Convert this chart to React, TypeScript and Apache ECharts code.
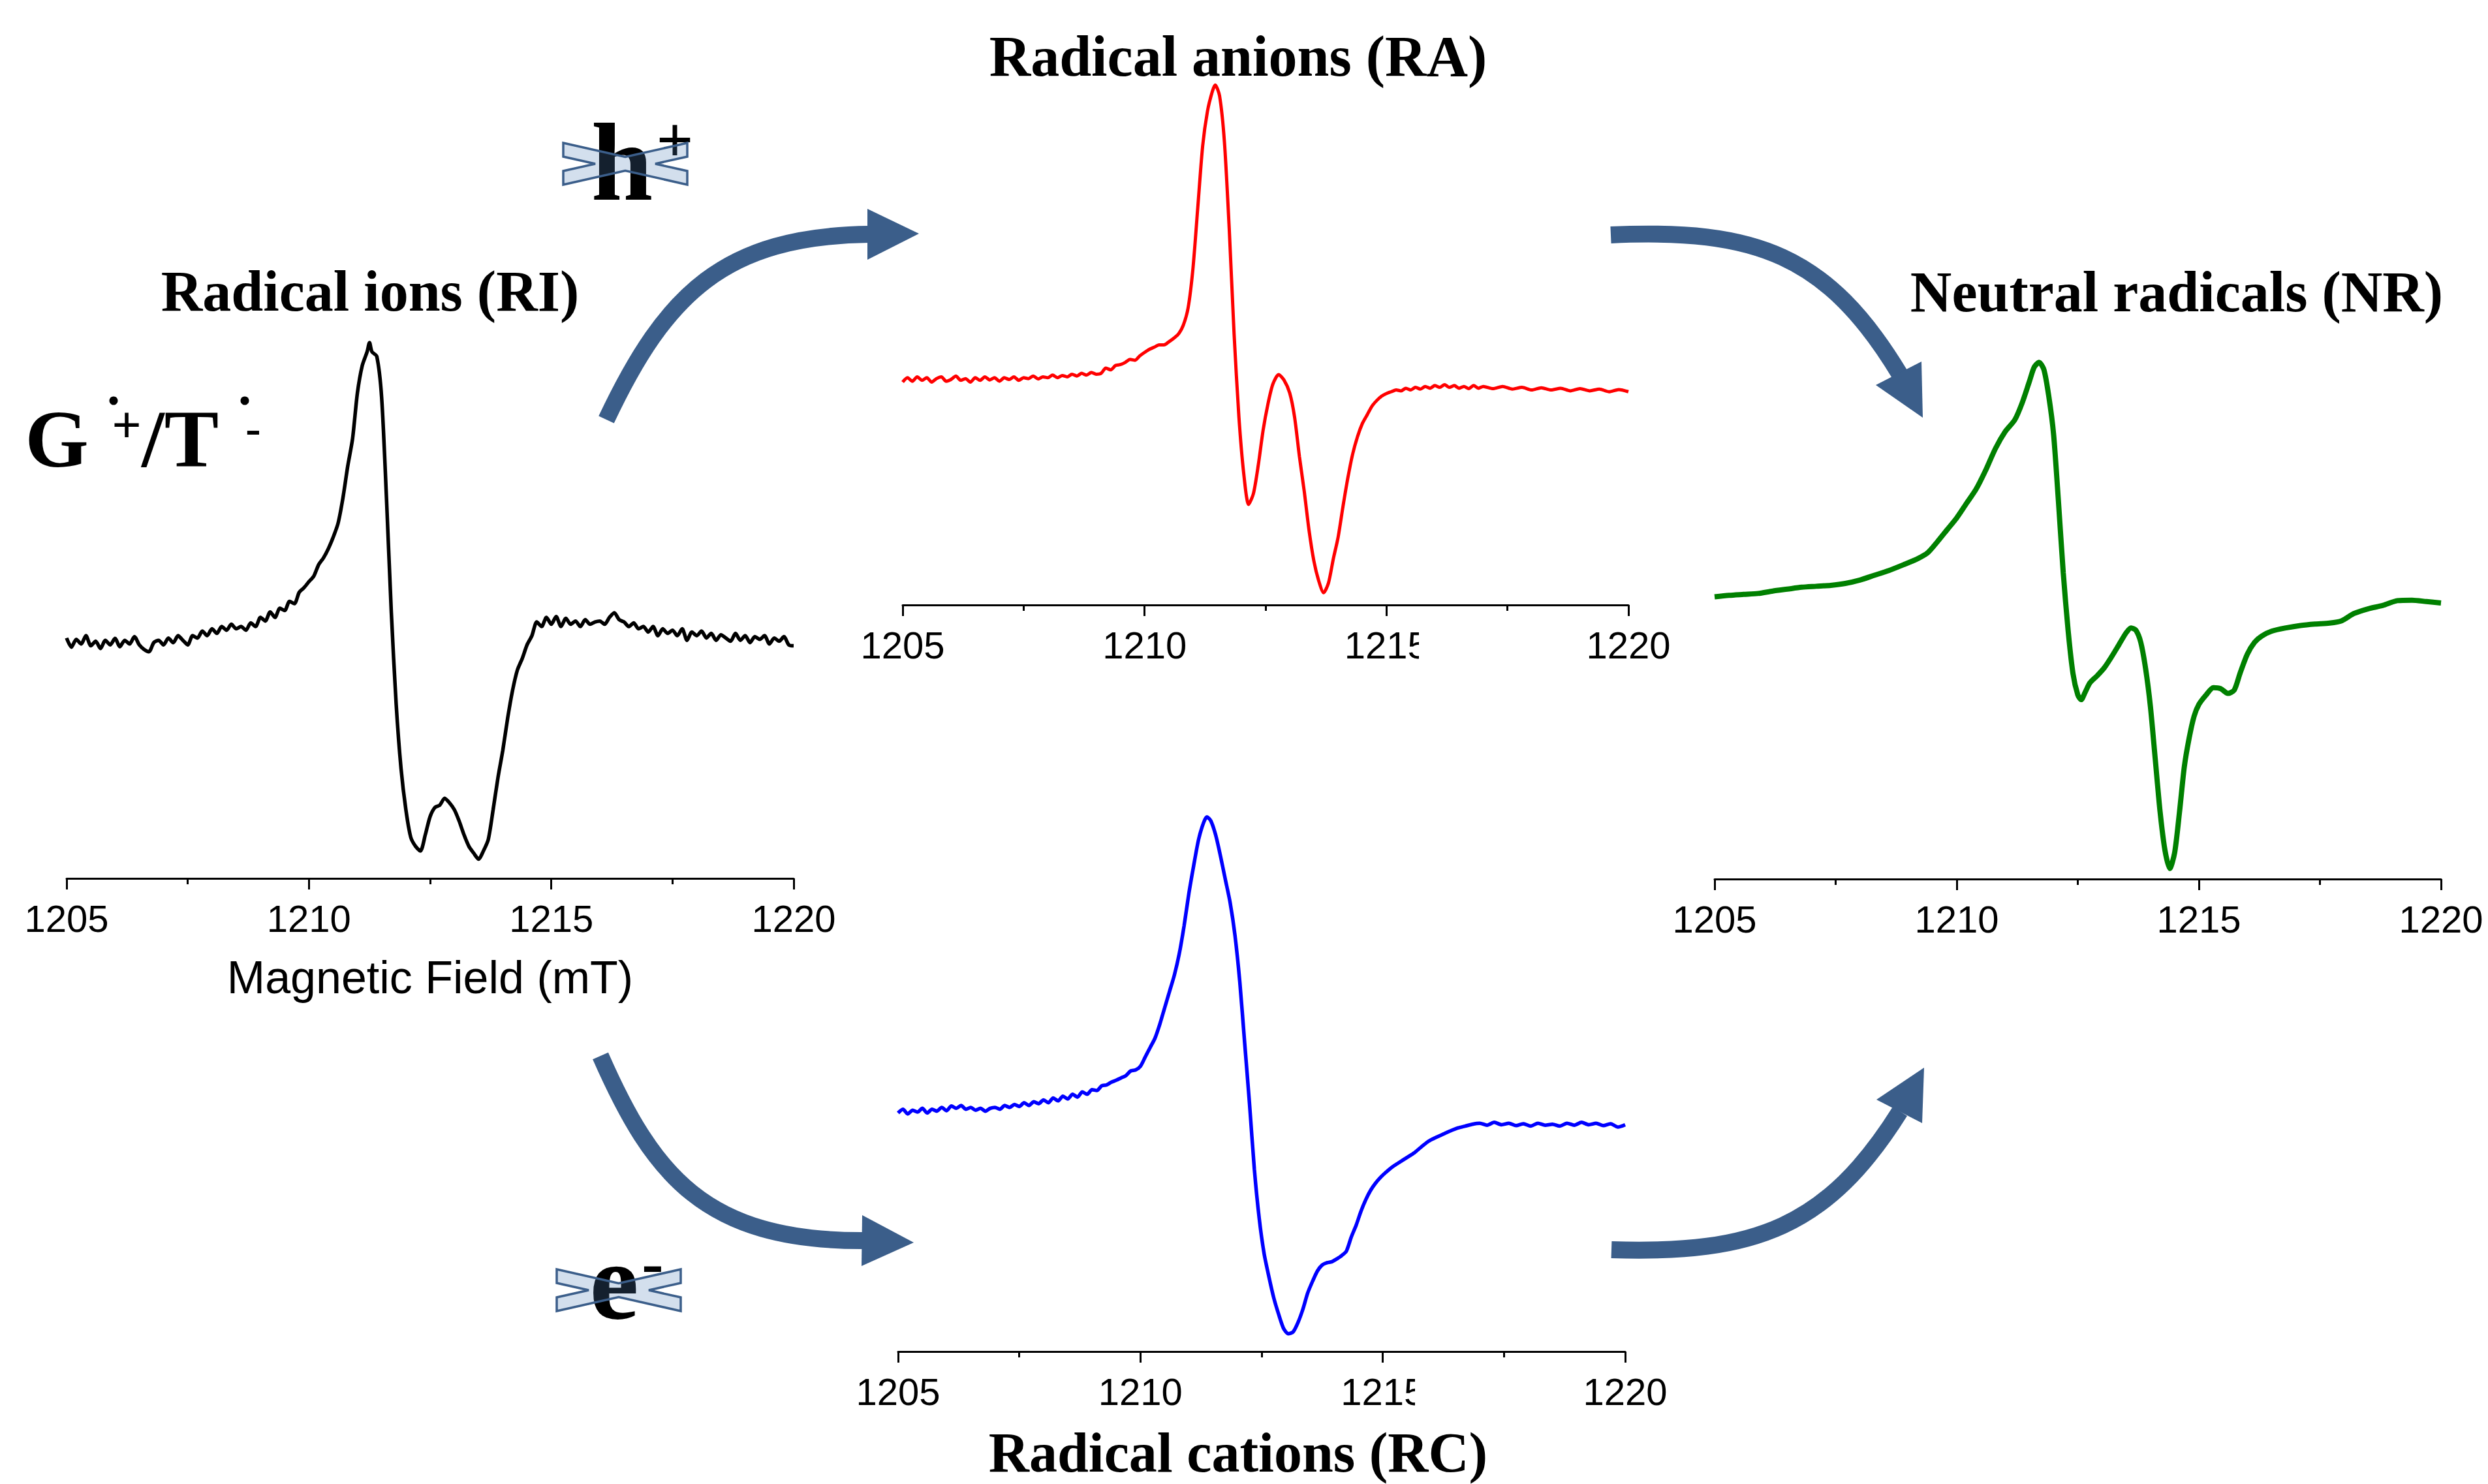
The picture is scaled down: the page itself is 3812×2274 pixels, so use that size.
import React, { useEffect, useRef } from "react";
import * as echarts from "echarts";

// Field axis (mT)
const FIELD_MIN = 1205;
const FIELD_MAX = 1220;
const FIELD_STEP = 5;

// Panel titles
const TITLE_RI = "Radical ions (RI)";
const TITLE_RA = "Radical anions (RA)";
const TITLE_NR = "Neutral radicals (NR)";
const TITLE_RC = "Radical cations (RC)";
const AXIS_NAME = "Magnetic Field (mT)";

// Radical ions (black) [field mT, signal a.u.]
const riSpectrum = [
  [1205.0,5.25],[1205.1,5.05],[1205.2,5.22],[1205.3,5.12],[1205.4,5.3],[1205.5,5.08],[1205.6,5.18],[1205.7,5.02],[1205.8,5.2],[1205.9,5.1],
  [1206.0,5.24],[1206.1,5.06],[1206.2,5.2],[1206.3,5.12],[1206.4,5.28],[1206.5,5.1],[1206.6,5.0],[1206.7,4.95],[1206.8,5.15],[1206.9,5.2],
  [1207.0,5.1],[1207.1,5.25],[1207.2,5.15],[1207.3,5.3],[1207.4,5.2],[1207.5,5.1],[1207.6,5.3],[1207.7,5.25],[1207.8,5.4],[1207.9,5.3],
  [1208.0,5.45],[1208.1,5.35],[1208.2,5.5],[1208.3,5.42],[1208.4,5.55],[1208.5,5.45],[1208.6,5.5],[1208.7,5.42],[1208.8,5.58],[1208.9,5.5],
  [1209.0,5.7],[1209.1,5.62],[1209.2,5.82],[1209.3,5.7],[1209.4,5.9],[1209.5,5.85],[1209.6,6.05],[1209.7,6.0],[1209.8,6.25],[1209.9,6.35],
  [1210.0,6.48],[1210.1,6.6],[1210.2,6.85],[1210.3,7.0],[1210.4,7.2],[1210.5,7.45],[1210.6,7.75],[1210.7,8.3],[1210.8,9.0],[1210.9,9.6],
  [1211.0,10.6],[1211.1,11.2],[1211.2,11.5],[1211.25,11.7],[1211.3,11.5],[1211.4,11.4],[1211.5,10.5],[1211.6,8.3],[1211.7,5.8],[1211.8,3.8],
  [1211.9,2.4],[1212.0,1.5],[1212.1,0.9],[1212.2,0.7],[1212.3,0.6],[1212.4,0.95],[1212.5,1.35],[1212.6,1.55],[1212.7,1.6],[1212.8,1.75],
  [1212.9,1.65],[1213.0,1.5],[1213.1,1.25],[1213.2,0.95],[1213.3,0.7],[1213.4,0.55],[1213.5,0.42],[1213.6,0.6],[1213.7,0.85],[1213.8,1.5],
  [1213.9,2.2],[1214.0,2.8],[1214.1,3.5],[1214.2,4.1],[1214.3,4.55],[1214.4,4.8],[1214.5,5.1],[1214.6,5.3],[1214.7,5.6],[1214.8,5.5],
  [1214.9,5.7],[1215.0,5.55],[1215.1,5.72],[1215.2,5.5],[1215.3,5.68],[1215.4,5.55],[1215.5,5.62],[1215.6,5.5],[1215.7,5.65],[1215.8,5.55],
  [1215.9,5.6],[1216.0,5.62],[1216.1,5.55],[1216.2,5.7],[1216.3,5.8],[1216.4,5.65],[1216.5,5.6],[1216.6,5.5],[1216.7,5.58],[1216.8,5.45],
  [1216.9,5.5],[1217.0,5.38],[1217.1,5.5],[1217.2,5.3],[1217.3,5.45],[1217.4,5.35],[1217.5,5.42],[1217.6,5.3],[1217.7,5.45],[1217.8,5.2],
  [1217.9,5.38],[1218.0,5.3],[1218.1,5.4],[1218.2,5.25],[1218.3,5.35],[1218.4,5.2],[1218.5,5.32],[1218.6,5.25],[1218.7,5.18],[1218.8,5.35],
  [1218.9,5.2],[1219.0,5.3],[1219.1,5.15],[1219.2,5.28],[1219.3,5.22],[1219.4,5.3],[1219.5,5.12],[1219.6,5.25],[1219.7,5.18],[1219.8,5.28],
  [1219.9,5.1],[1220.0,5.08],
];

// Radical anions (red)
const raSpectrum = [
  [1205.0,5.1],[1205.1,5.2],[1205.2,5.12],[1205.3,5.22],[1205.4,5.14],[1205.5,5.2],[1205.6,5.1],[1205.7,5.18],[1205.8,5.22],[1205.9,5.12],
  [1206.0,5.16],[1206.1,5.24],[1206.2,5.14],[1206.3,5.18],[1206.4,5.1],[1206.5,5.2],[1206.6,5.14],[1206.7,5.22],[1206.8,5.15],[1206.9,5.2],
  [1207.0,5.12],[1207.1,5.2],[1207.2,5.16],[1207.3,5.22],[1207.4,5.14],[1207.5,5.2],[1207.6,5.18],[1207.7,5.24],[1207.8,5.17],[1207.9,5.22],
  [1208.0,5.2],[1208.1,5.26],[1208.2,5.2],[1208.3,5.25],[1208.4,5.22],[1208.5,5.28],[1208.6,5.24],[1208.7,5.3],[1208.8,5.26],[1208.9,5.32],
  [1209.0,5.28],[1209.1,5.3],[1209.2,5.42],[1209.3,5.38],[1209.4,5.48],[1209.5,5.5],[1209.6,5.55],[1209.7,5.62],[1209.8,5.6],[1209.9,5.7],
  [1210.0,5.78],[1210.1,5.85],[1210.2,5.9],[1210.3,5.95],[1210.4,5.95],[1210.5,6.02],[1210.6,6.1],[1210.7,6.2],[1210.8,6.4],[1210.9,6.8],
  [1211.0,7.7],[1211.1,9.1],[1211.2,10.5],[1211.3,11.3],[1211.4,11.75],[1211.46,11.9],[1211.55,11.65],[1211.65,10.6],[1211.75,8.6],[1211.85,6.2],
  [1211.95,4.3],[1212.05,3.0],[1212.15,2.3],[1212.25,2.55],[1212.35,3.2],[1212.45,4.0],[1212.55,4.6],[1212.65,5.05],[1212.77,5.27],[1212.88,5.15],
  [1213.0,4.85],[1213.1,4.3],[1213.2,3.4],[1213.3,2.6],[1213.4,1.7],[1213.5,1.0],[1213.6,0.55],[1213.7,0.28],[1213.8,0.5],[1213.9,1.05],
  [1214.0,1.55],[1214.1,2.25],[1214.2,2.9],[1214.3,3.45],[1214.4,3.85],[1214.5,4.15],[1214.6,4.35],[1214.7,4.55],[1214.8,4.68],[1214.9,4.78],
  [1215.0,4.84],[1215.1,4.88],[1215.2,4.92],[1215.3,4.9],[1215.4,4.96],[1215.5,4.92],[1215.6,4.98],[1215.7,4.94],[1215.8,5.0],[1215.9,4.96],
  [1216.0,5.02],[1216.1,4.98],[1216.2,5.04],[1216.3,4.98],[1216.4,5.02],[1216.5,4.96],[1216.6,5.0],[1216.7,4.95],[1216.8,5.02],[1216.9,4.96],
  [1217.0,5.0],[1217.2,4.95],[1217.4,5.0],[1217.6,4.94],[1217.8,4.98],[1218.0,4.92],[1218.2,4.97],[1218.4,4.92],[1218.6,4.96],[1218.8,4.9],
  [1219.0,4.95],[1219.2,4.9],[1219.4,4.94],[1219.6,4.88],[1219.8,4.93],[1220.0,4.88],
];

// Neutral radicals (green)
const nrSpectrum = [
  [1205.0,5.9],[1205.3,5.93],[1205.6,5.95],[1205.9,5.97],[1206.2,6.02],[1206.5,6.06],[1206.8,6.1],[1207.1,6.12],[1207.4,6.14],[1207.7,6.18],
  [1208.0,6.25],[1208.3,6.35],[1208.6,6.45],[1208.9,6.57],[1209.2,6.7],[1209.4,6.82],[1209.6,7.05],[1209.8,7.3],[1210.0,7.55],[1210.2,7.85],
  [1210.4,8.15],[1210.6,8.55],[1210.8,9.0],[1211.0,9.35],[1211.2,9.6],[1211.35,9.95],[1211.5,10.4],[1211.6,10.7],[1211.7,10.8],[1211.8,10.65],
  [1211.9,10.1],[1212.0,9.3],[1212.1,7.9],[1212.2,6.4],[1212.3,5.2],[1212.4,4.3],[1212.5,3.85],[1212.57,3.75],[1212.65,3.9],[1212.75,4.1],
  [1212.9,4.25],[1213.05,4.42],[1213.2,4.65],[1213.35,4.9],[1213.5,5.15],[1213.6,5.25],[1213.7,5.2],[1213.8,4.95],[1213.9,4.4],[1214.0,3.6],
  [1214.1,2.5],[1214.2,1.4],[1214.3,0.6],[1214.4,0.22],[1214.5,0.55],[1214.6,1.4],[1214.7,2.35],[1214.8,2.95],[1214.9,3.4],[1215.0,3.65],
  [1215.15,3.85],[1215.3,4.0],[1215.45,3.98],[1215.6,3.88],[1215.73,3.95],[1215.85,4.3],[1216.0,4.7],[1216.15,4.95],[1216.3,5.08],[1216.5,5.18],
  [1216.8,5.25],[1217.1,5.3],[1217.4,5.33],[1217.7,5.35],[1217.95,5.4],[1218.2,5.55],[1218.5,5.65],[1218.8,5.72],[1219.1,5.82],[1219.4,5.83],
  [1219.7,5.8],[1220.0,5.77],
];

// Radical cations (blue)
const rcSpectrum = [
  [1205.0,5.1],[1205.1,5.18],[1205.2,5.08],[1205.3,5.16],[1205.4,5.12],[1205.5,5.2],[1205.6,5.1],[1205.7,5.18],[1205.8,5.14],[1205.9,5.22],
  [1206.0,5.15],[1206.1,5.25],[1206.2,5.2],[1206.3,5.26],[1206.4,5.18],[1206.5,5.22],[1206.6,5.16],[1206.7,5.2],[1206.8,5.14],[1206.9,5.2],
  [1207.0,5.22],[1207.1,5.18],[1207.2,5.26],[1207.3,5.22],[1207.4,5.28],[1207.5,5.24],[1207.6,5.32],[1207.7,5.26],[1207.8,5.34],[1207.9,5.3],
  [1208.0,5.38],[1208.1,5.32],[1208.2,5.42],[1208.3,5.36],[1208.4,5.46],[1208.5,5.4],[1208.6,5.5],[1208.7,5.44],[1208.8,5.55],[1208.9,5.5],
  [1209.0,5.6],[1209.1,5.58],[1209.2,5.68],[1209.3,5.7],[1209.4,5.76],[1209.5,5.8],[1209.6,5.85],[1209.7,5.9],[1209.8,6.0],[1209.9,6.02],
  [1210.0,6.1],[1210.1,6.3],[1210.2,6.5],[1210.3,6.7],[1210.4,7.0],[1210.5,7.35],[1210.6,7.7],[1210.7,8.05],[1210.8,8.5],[1210.9,9.1],
  [1211.0,9.8],[1211.1,10.4],[1211.2,10.95],[1211.3,11.3],[1211.37,11.43],[1211.45,11.35],[1211.55,11.05],[1211.65,10.6],[1211.75,10.1],[1211.85,9.6],
  [1211.95,8.9],[1212.05,7.9],[1212.15,6.6],[1212.25,5.3],[1212.35,3.9],[1212.45,2.85],[1212.55,2.1],[1212.65,1.6],[1212.75,1.15],[1212.85,0.8],
  [1212.95,0.5],[1213.05,0.38],[1213.15,0.42],[1213.25,0.62],[1213.35,0.9],[1213.45,1.25],[1213.55,1.5],[1213.65,1.72],[1213.75,1.85],[1213.85,1.9],
  [1213.95,1.92],[1214.05,1.98],[1214.15,2.05],[1214.25,2.15],[1214.35,2.45],[1214.45,2.7],[1214.55,3.0],[1214.65,3.25],[1214.75,3.45],[1214.85,3.6],
  [1214.95,3.72],[1215.05,3.82],[1215.2,3.95],[1215.35,4.05],[1215.5,4.15],[1215.65,4.25],[1215.8,4.38],[1215.95,4.5],[1216.1,4.58],[1216.25,4.65],
  [1216.4,4.72],[1216.55,4.78],[1216.7,4.82],[1216.85,4.86],[1217.0,4.88],[1217.15,4.84],[1217.3,4.9],[1217.45,4.85],[1217.6,4.88],[1217.75,4.83],
  [1217.9,4.87],[1218.05,4.82],[1218.2,4.88],[1218.35,4.84],[1218.5,4.86],[1218.65,4.82],[1218.8,4.88],[1218.95,4.84],[1219.1,4.9],[1219.25,4.85],
  [1219.4,4.88],[1219.55,4.83],[1219.7,4.87],[1219.85,4.8],[1220.0,4.85],
];

const W = 3812;
const H = 2274;
const ARROW = "#3B5E8A";
const SERIF = '"Liberation Serif", "Times New Roman", serif';
const SANS = '"Liberation Sans", Arial, sans-serif';

const panels = [
  { left: 102, top: 504, width: 1114, height: 842, yMax: 12, data: riSpectrum, color: "#000000", lw: 5.5, name: AXIS_NAME },
  { left: 1383, top: 90, width: 1112, height: 837, yMax: 12.5, data: raSpectrum, color: "#FF0000", lw: 5, name: "" },
  { left: 2627, top: 504, width: 1113, height: 843, yMax: 11.5, data: nrSpectrum, color: "#008000", lw: 8, name: "" },
  { left: 1376, top: 1211, width: 1114, height: 860, yMax: 12, data: rcSpectrum, color: "#0000FF", lw: 5.5, name: "" },
];

const CROSS = [
  [-95, -32], [0, -10.5], [95, -32], [95, -11], [46, 0], [95, 11],
  [95, 32], [0, 10.5], [-95, 32], [-95, 11], [-46, 0], [-95, -11],
];

function cross(cx: number, cy: number) {
  return {
    type: "polygon",
    z: 120,
    shape: { points: CROSS.map(([x, y]) => [cx + x, cy + y]) },
    style: { fill: "rgba(80,128,184,0.25)", stroke: ARROW, lineWidth: 3.5 },
  };
}

function txt(text: string, x: number, y: number, size: number, align = "center", bold = true, family = SERIF) {
  return {
    type: "text",
    z: 110,
    x,
    y,
    style: {
      text,
      fill: "#000",
      fontSize: size,
      fontWeight: bold ? "bold" : "normal",
      fontFamily: family,
      align,
      verticalAlign: "middle",
      textAlign: align,
      textVerticalAlign: "middle",
    },
  };
}

function shaft(x1: number, y1: number, c1x: number, c1y: number, c2x: number, c2y: number, x2: number, y2: number) {
  return {
    type: "bezierCurve",
    z: 100,
    shape: { x1, y1, cpx1: c1x, cpy1: c1y, cpx2: c2x, cpy2: c2y, x2, y2 },
    style: { stroke: ARROW, lineWidth: 26, fill: "none" },
  };
}

function head(pts: number[][]) {
  return { type: "polygon", z: 100, shape: { points: pts }, style: { fill: ARROW } };
}

function buildOption() {
  const grid = panels.map((p) => ({ left: p.left, top: p.top, width: p.width, height: p.height, containLabel: false }));
  const xAxis = panels.map((p, i) => ({
    type: "value",
    gridIndex: i,
    min: FIELD_MIN,
    max: FIELD_MAX,
    interval: FIELD_STEP,
    name: p.name,
    nameLocation: "middle",
    nameGap: 117,
    nameTextStyle: { fontSize: 70, color: "#000", fontFamily: SANS },
    axisLine: { show: true, onZero: false, lineStyle: { color: "#000", width: 3 } },
    axisTick: { show: true, inside: false, length: 17, lineStyle: { color: "#000", width: 3 } },
    minorTick: { show: true, splitNumber: 2, length: 9, lineStyle: { color: "#000", width: 3 } },
    splitLine: { show: false },
    minorSplitLine: { show: false },
    axisLabel: {
      show: true,
      fontSize: 58,
      color: "#000",
      fontFamily: SANS,
      margin: 32,
      showMinLabel: true,
      showMaxLabel: true,
      formatter: (v: number) => String(v),
    },
  }));
  const yAxis = panels.map((p, i) => ({ type: "value", gridIndex: i, min: 0, max: p.yMax, show: false }));
  const series = panels.map((p, i) => ({
    type: "line",
    xAxisIndex: i,
    yAxisIndex: i,
    data: p.data,
    showSymbol: false,
    symbol: "none",
    smooth: 0.25,
    clip: false,
    lineStyle: { color: p.color, width: p.lw },
  }));

  const graphic = [
    // arrows
    shaft(929, 643, 1020, 450, 1110, 362, 1332, 359),
    head([[1329, 320], [1408, 358], [1329, 398]]),
    shaft(2468, 360, 2690, 350, 2800, 390, 2911, 574),
    head([[2874, 590], [2946, 640], [2944, 554]]),
    shaft(920, 1618, 1000, 1800, 1080, 1902, 1322, 1901),
    head([[1321, 1862], [1400, 1904], [1320, 1940]]),
    shaft(2469, 1915, 2690, 1922, 2800, 1880, 2911, 1703),
    head([[2875, 1685], [2948, 1636], [2945, 1721]]),
    // titles
    txt(TITLE_RA, 1897, 86, 88),
    txt(TITLE_RI, 567, 446, 88),
    txt(TITLE_NR, 3335, 447, 88),
    txt(TITLE_RC, 1897, 2226, 86),
    // G+/T-
    txt("G", 87, 673, 125),
    txt("+", 194, 651, 80),
    txt("/T", 217, 673, 125, "left"),
    txt("-", 388, 656, 70),
    { type: "circle", z: 110, shape: { cx: 174, cy: 614, r: 6.5 }, style: { fill: "#000" } },
    { type: "circle", z: 110, shape: { cx: 375, cy: 614, r: 6.5 }, style: { fill: "#000" } },
    // crossed carriers
    txt("h", 953, 249, 170),
    txt("+", 1034, 214, 100),
    cross(958, 251),
    txt("e", 941, 1963, 170),
    txt("-", 1000, 1934, 100),
    cross(948, 1977),
    // clipped "1215" labels
    { type: "rect", z: 130, shape: { x: 2174, y: 950, width: 30, height: 75 }, style: { fill: "#fff" } },
    { type: "rect", z: 130, shape: { x: 2168, y: 2090, width: 30, height: 75 }, style: { fill: "#fff" } },
  ];

  return {
    animation: false,
    backgroundColor: "#ffffff",
    grid,
    xAxis,
    yAxis,
    series,
    graphic,
  };
}

export default function App() {
  const ref = useRef<HTMLDivElement>(null);
  useEffect(() => {
    if (!ref.current) return;
    const chart = echarts.init(ref.current, null, { renderer: "svg", width: W, height: H });
    chart.setOption(buildOption() as any);
    return () => chart.dispose();
  }, []);
  return (
    <div
      ref={ref}
      style={{ position: "fixed", left: 0, top: 0, width: W, height: H, background: "#fff" }}
    />
  );
}
